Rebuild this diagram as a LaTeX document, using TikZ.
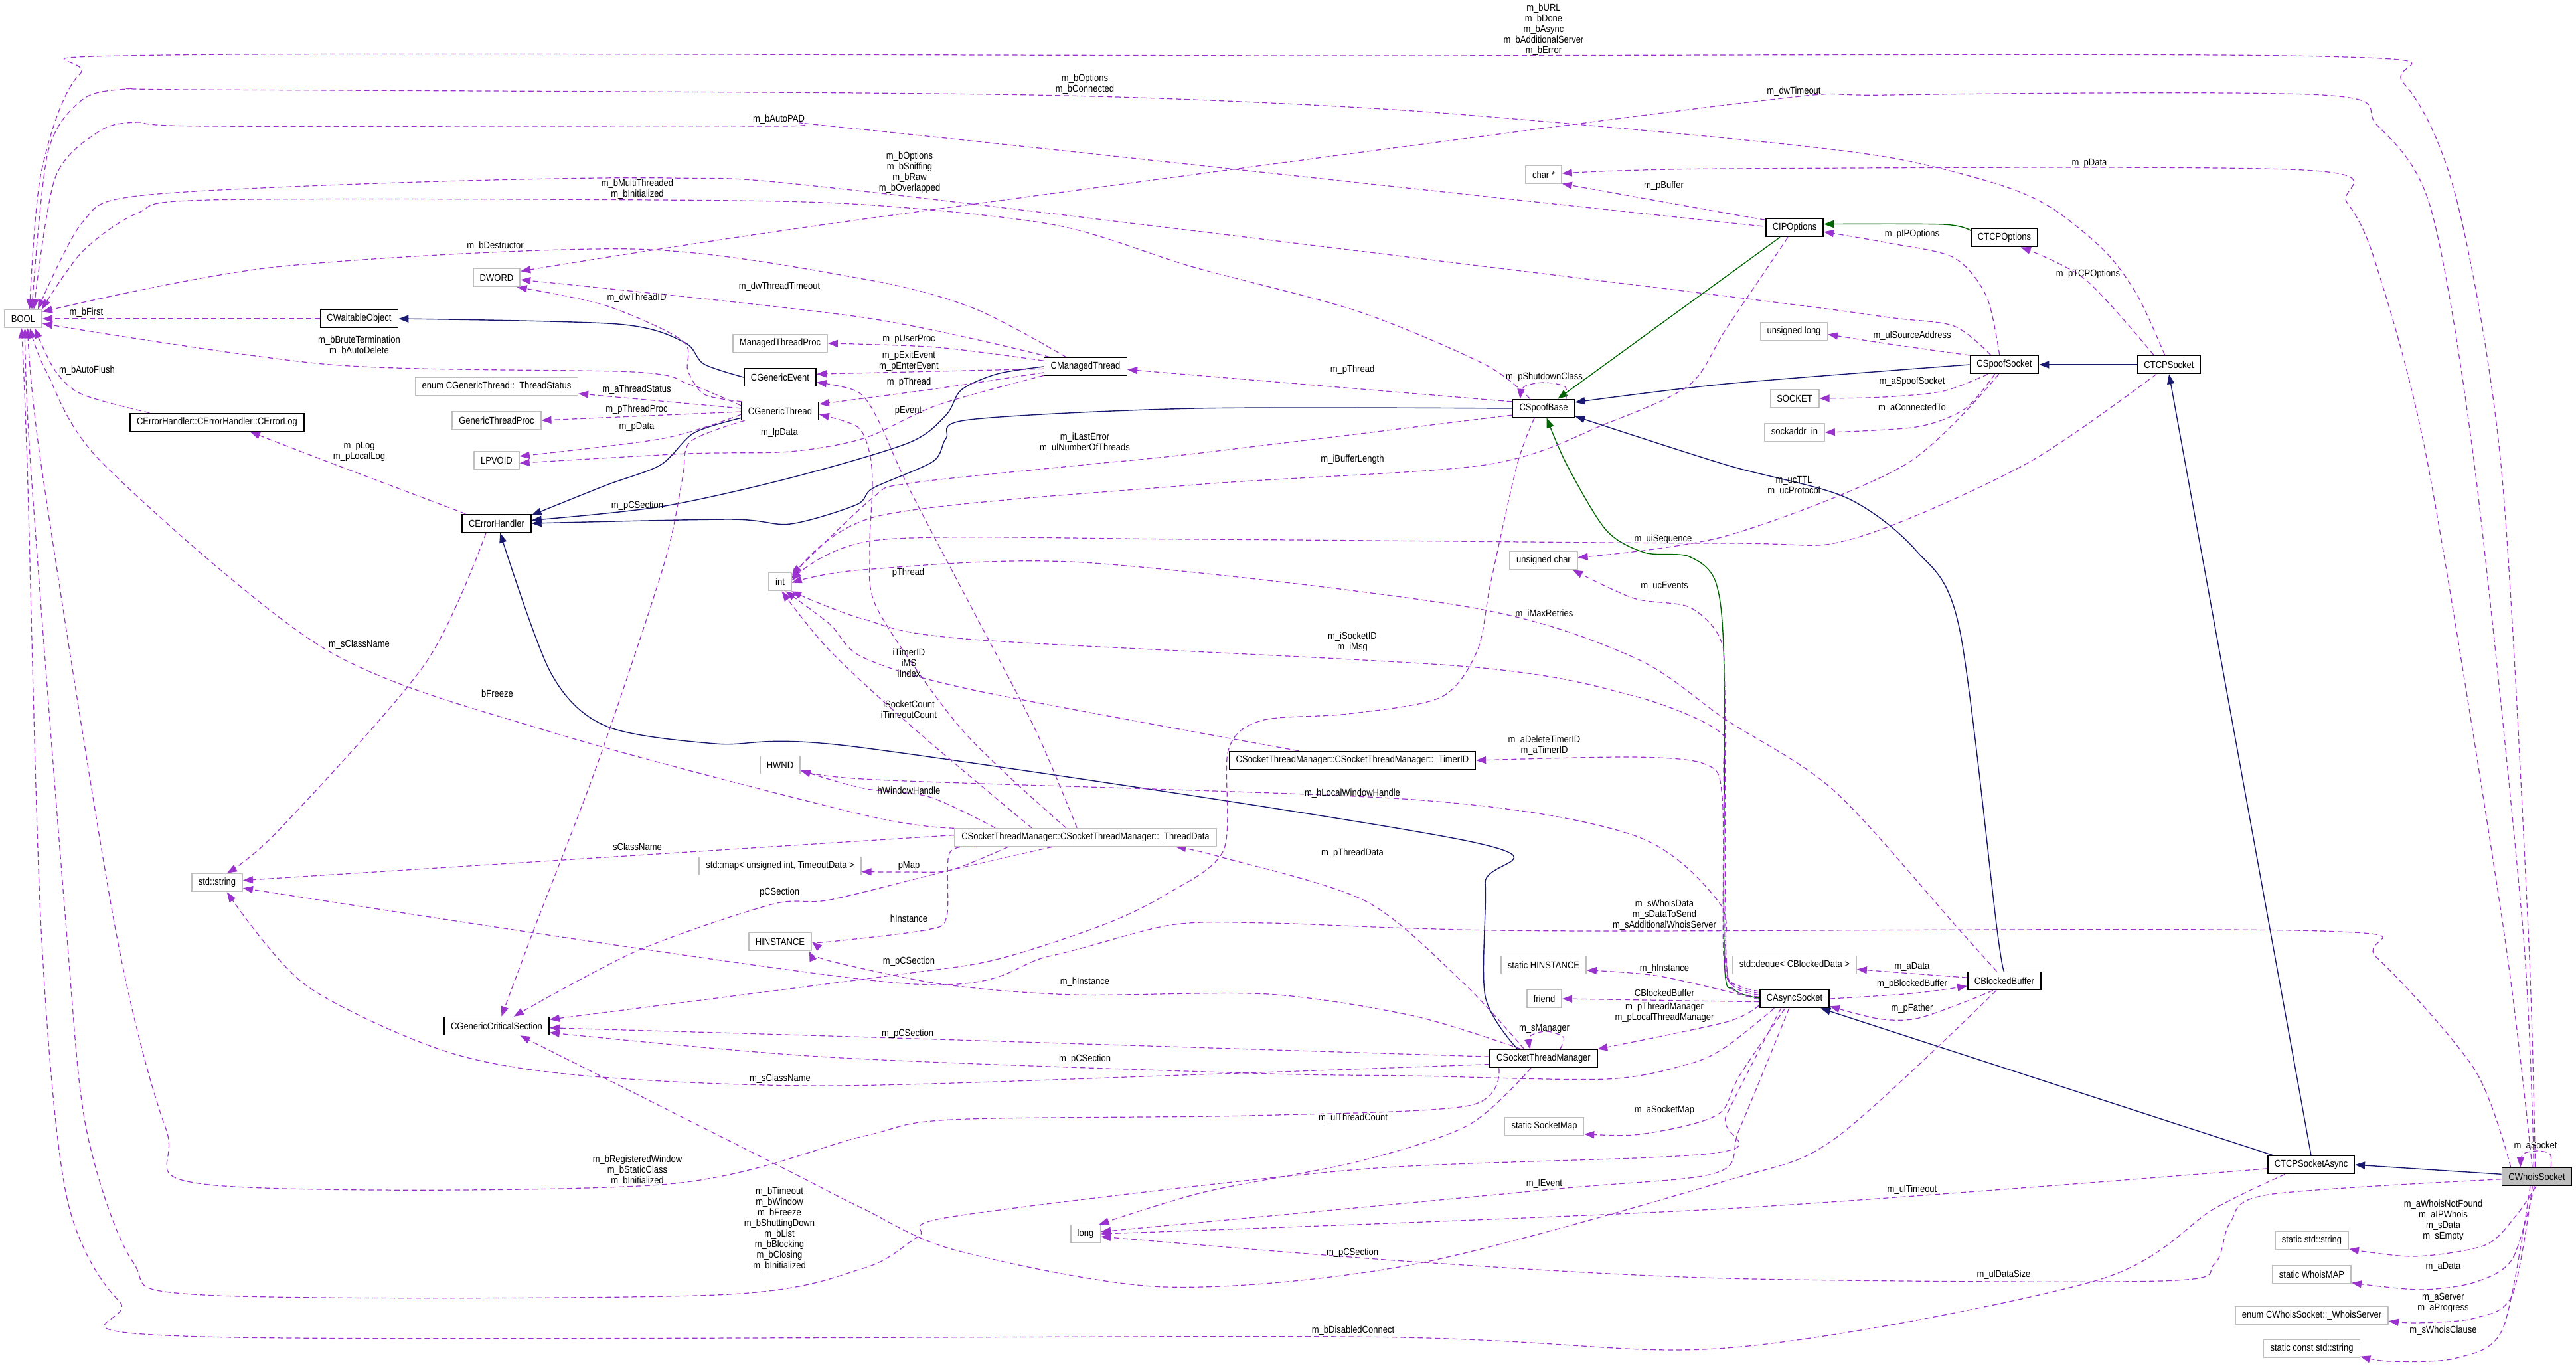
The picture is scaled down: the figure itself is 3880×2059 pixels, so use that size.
\documentclass[tikz,border=0pt]{standalone}
\usepackage{fontspec}
\newfontfamily\dxfont[FakeStretch=0.88]{Liberation Sans}
\usepackage{tikz}
\usetikzlibrary{arrows.meta}
\definecolor{dxpurple}{RGB}{154,50,205}
\definecolor{dxnavy}{RGB}{25,25,112}
\definecolor{dxgreen}{RGB}{0,100,0}
\definecolor{dxgray}{RGB}{191,191,191}
\pgfdeclarelayer{paper}
\pgfdeclarelayer{wires}
\pgfsetlayers{paper,wires,main}
\tikzset{
  cls/.style={draw=black, line width=0.45pt, fill=white, minimum height=0.27cm,
    inner xsep=0.1cm, inner ysep=0pt, font=\dxfont\fontsize{4.2}{4.6}\selectfont},
  typ/.style={cls, draw=dxgray},
  focus/.style={cls, fill=dxgray},
  lbl/.style={align=center, inner sep=0pt, font=\dxfont\fontsize{4.2}{4.55}\selectfont},
  member/.style={draw=dxpurple, line width=0.35pt, dash pattern=on 0.08cm off 0.05cm,
    -{Triangle[length=0.15cm, width=0.11cm]}},
  pub/.style={draw=dxnavy, line width=0.4pt, -{Triangle[length=0.15cm, width=0.11cm]}},
  prot/.style={draw=dxgreen, line width=0.4pt, -{Triangle[length=0.15cm, width=0.11cm]}}
}

\begin{document}
\begin{tikzpicture}[x=0.01cm, y=-0.01cm]
    \useasboundingbox (0,0) rectangle (3880,2059);
    \begin{pgfonlayer}{paper}
        \fill[white] (0,0) rectangle (3880,2059);
    \end{pgfonlayer}

    % Classes and types
    \node[typ] (bool) at (35,480) {BOOL};
    \node[cls] (cwait) at (541,480) {CWaitableObject};
    \node[typ] (dword) at (748,418) {DWORD};
    \node[typ] (mtproc) at (1175,517) {ManagedThreadProc};
    \node[cls] (gevent) at (1175,568) {CGenericEvent};
    \node[typ] (tstatus) at (748,582) {enum CGenericThread::\_ThreadStatus};
    \node[cls] (gthread) at (1175,619) {CGenericThread};
    \node[typ] (gtproc) at (748,633) {GenericThreadProc};
    \node[cls] (elog) at (327,636) {CErrorHandler::CErrorHandler::CErrorLog};
    \node[typ] (lpvoid) at (748,693) {LPVOID};
    \node[cls] (ehandler) at (748,788) {CErrorHandler};
    \node[typ] (int) at (1175,876) {int};
    \node[typ] (hwnd) at (1175,1152) {HWND};
    \node[typ] (sstring) at (327,1329) {std::string};
    \node[typ] (smap) at (1175,1304) {std::map< unsigned int, TimeoutData >};
    \node[typ] (hinst) at (1175,1418) {HINSTANCE};
    \node[cls] (gcsec) at (748,1545) {CGenericCriticalSection};
    \node[typ] (long) at (1635,1858) {long};
    \node[cls] (mthread) at (1635,552) {CManagedThread};
    \node[typ] (tdata) at (1635,1261) {CSocketThreadManager::CSocketThreadManager::\_ThreadData};
    \node[typ] (charp) at (2325,263) {char *};
    \node[cls] (sbase) at (2325,615) {CSpoofBase};
    \node[typ] (uchar) at (2325,844) {unsigned char};
    \node[cls] (timerid) at (2037,1145) {CSocketThreadManager::CSocketThreadManager::\_TimerID};
    \node[typ] (shinst) at (2325,1453) {static HINSTANCE};
    \node[typ] (friend) at (2326,1504) {friend};
    \node[cls] (stm) at (2325,1594) {CSocketThreadManager};
    \node[typ] (smapst) at (2326,1696) {static SocketMap};
    \node[cls] (ipopt) at (2703,343) {CIPOptions};
    \node[typ] (ulong) at (2702,499) {unsigned long};
    \node[typ] (socket) at (2703,600) {SOCKET};
    \node[typ] (saddr) at (2703,651) {sockaddr\_in};
    \node[typ] (deque) at (2703,1453) {std::deque< CBlockedData >};
    \node[cls] (async) at (2703,1504) {CAsyncSocket};
    \node[cls] (tcpopt) at (3019,358) {CTCPOptions};
    \node[cls] (ssock) at (3019,549) {CSpoofSocket};
    \node[cls] (bbuf) at (3019,1477) {CBlockedBuffer};
    \node[cls] (tcpsock) at (3267,549) {CTCPSocket};
    \node[cls] (tcpasync) at (3481,1754) {CTCPSocketAsync};
    \node[focus] (whois) at (3821,1772) {CWhoisSocket};
    \node[typ] (ststr) at (3482,1868) {static std::string};
    \node[typ] (swmap) at (3482,1919) {static WhoisMAP};
    \node[typ] (wserver) at (3482,1981) {enum CWhoisSocket::\_WhoisServer};
    \node[typ] (scstr) at (3482,2031) {static const std::string};

    \begin{pgfonlayer}{wires}
    % Public inheritance
    \draw[pub] plot[smooth] coordinates {(gevent.west) (1060,548) (1030,515) (930,488) (cwait.east)};
    \draw[pub] plot[smooth] coordinates {(gthread.-170) (1045,652) (995,700) (912,731) (ehandler.13)};
    \draw[pub] plot[smooth] coordinates {(mthread.west) (1502,563) (1448,587) (1425,625) (1368,667) (1189,720) (995,763) (ehandler.5)};
    \draw[pub] plot[smooth] coordinates {(sbase.west) (1800,615) (1460,632) (1425,660) (1405,695) (1315,735) (1290,760) (1190,789) (1100,782) (ehandler.east)};
    \draw[pub] plot[smooth] coordinates {(stm.160) (2237,1500) (2237,1330) (2218,1268) (1300,1126) (1078,1120) (912,1093) (829,1012) (ehandler.-70)};
    \draw[pub] plot[smooth] coordinates {(ssock.west) (2600,578) (sbase.11)};
    \draw[pub] (tcpsock.west) -- (ssock.east);
    \draw[pub] plot[smooth] coordinates {(bbuf.north) (3008,1400) (2951,945) (2886,829) (2780,749) (2600,700) (sbase.-14)};
    \draw[pub] (tcpasync.north) -- (tcpsock.south);
    \draw[pub] (tcpasync.166) -- (async.-20);
    \draw[pub] (whois.176) -- (tcpasync.east);

    % Protected inheritance
    \draw[prot] plot[smooth] coordinates {(tcpopt.168) (2927,338) (ipopt.7)};
    \draw[prot] (ipopt.-147) -- (sbase.34);
    \draw[prot] plot[smooth] coordinates {(async.179) (2612,1490) (2597,1440) (2597,1012) (2585,879) (2544,838) (2477,832) (2419,798) (2360,700) (sbase.-72)};

    % Members of type BOOL
    \draw[member] plot[smooth] coordinates {(whois.100) (3808,1400) (3767,700) (3700,300) (3620,125) (3498,85) (2000,84) (249,83) (120,112) (62,260) (bool.56)};
    \draw[member] plot[smooth] coordinates {(tcpsock.114) (3220,446) (3171,379) (3090,313) (3008,277) (2845,237) (2600,208) (2129,167) (1715,147) (1300,140) (290,135) (191,134) (124,150) (72,230) (bool.48)};
    \draw[member] plot[smooth] coordinates {(ipopt.175) (2600,335) (1300,195) (1161,190) (315,190) (207,184) (149,198) (83,268) (bool.42)};
    \draw[member] plot[smooth] coordinates {(ssock.145) (2943,491) (2845,478) (2600,446) (1300,288) (1012,268) (600,275) (207,295) (124,335) (bool.33)};
    \draw[member] plot[smooth] coordinates {(sbase.145) (2237,549) (2046,469) (1797,402) (1590,339) (1300,308) (995,301) (315,301) (207,321) (124,379) (bool.27)};
    \draw[member] plot[smooth] coordinates {(mthread.154) (1466,464) (1300,420) (954,375) (415,402) (bool.20)};
    \draw[member] (cwait.west) -- (bool.east);
    \draw[member] plot[smooth] coordinates {(gthread.172) (1078,594) (1036,578) (954,560) (498,549) (bool.-14)};
    \draw[member] plot[smooth] coordinates {(elog.172) (124,594) (83,558) (bool.-40)};
    \draw[member] plot[smooth] coordinates {(tdata.176) (1300,1227) (829,1102) (489,977) (157,700) (70,560) (bool.-55)};
    \draw[member] plot[smooth] coordinates {(stm.-168) (2212,1665) (1880,1680) (1433,1686) (1300,1711) (995,1784) (315,1784) (250,1700) (174,1400) (62,700) (bool.-65)};
    \draw[member] plot[smooth] coordinates {(async.-145) (2600,1680) (2585,1736) (2046,1761) (1441,1831) (1383,1862) (1300,1910) (1078,1950) (307,1950) (200,1900) (130,1700) (100,1400) (46,700) (bool.-80)};
    \draw[member] plot[smooth] coordinates {(tcpasync.-160) (3335,1820) (3155,1929) (2600,2030) (2038,2013) (307,2013) (180,1960) (100,1800) (62,1400) (41,700) (bool.-100)};

    % Members of type DWORD
    \draw[member] plot[smooth] coordinates {(whois.108) (3800,1400) (3727,700) (3661,313) (3580,188) (3498,143) (2845,143) (2600,158) (1300,330) (dword.15)};
    \draw[member] plot[smooth] coordinates {(mthread.165) (1300,478) (dword.-5)};
    \draw[member] plot[smooth] coordinates {(gthread.166) (1061,594) (1036,558) (1028,513) (912,460) (dword.-25)};

    % CManagedThread
    \draw[member] plot[smooth] coordinates {(mthread.172) (1412,523) (mtproc.east)};
    \draw[member] (mthread.-177) -- (gevent.5);
    \draw[member] plot[smooth] coordinates {(mthread.-172) (1412,585) (gthread.10)};
    \draw[member] plot[smooth] coordinates {(mthread.-168) (1412,610) (1301,660) (1189,680) (1036,683) (lpvoid.-7)};

    % CGenericThread
    \draw[member] (gthread.176) -- (tstatus.-5);
    \draw[member] (gthread.-179) -- (gtproc.east);
    \draw[member] plot[smooth] coordinates {(gthread.-175) (1000,660) (lpvoid.10)};
    \draw[member] plot[smooth] coordinates {(gthread.-165) (1040,665) (1028,720) (1000,850) (900,1150) (804,1400) (gcsec.63)};

    % CErrorHandler
    \draw[member] plot[smooth] coordinates {(ehandler.163) (506,700) (elog.-16)};
    \draw[member] plot[smooth] coordinates {(ehandler.-138) (640,1000) (420,1250) (sstring.44)};

    % _ThreadData
    \draw[member] plot[smooth] coordinates {(tdata.132) (1560,1100) (1466,920) (1368,733) (1323,633) (1292,590) (gevent.-8)};
    \draw[member] plot[smooth] coordinates {(tdata.154) (1450,1100) (1323,920) (1310,833) (1314,733) (1310,683) (1292,643) (gthread.-5)};
    \draw[member] plot[smooth] coordinates {(tdata.170) (1380,1100) (1250,980) (int.-80)};
    \draw[member] plot[smooth] coordinates {(tdata.174) (1400,1200) (1300,1187) (hwnd.-15)};
    \draw[member] (tdata.179) -- (sstring.5);
    \draw[member] plot[smooth] coordinates {(tdata.-173) (1433,1310) (1375,1313) (smap.-4)};
    \draw[member] plot[smooth] coordinates {(tdata.-164) (1433,1310) (1250,1355) (1162,1362) (959,1432) (gcsec.29)};
    \draw[member] plot[smooth] coordinates {(tdata.-175) (1430,1285) (1426,1380) (1397,1400) (1250,1418) (hinst.east)};

    % _TimerID
    \draw[member] plot[smooth] coordinates {(timerid.170) (1466,1039) (1300,990) (1250,940) (int.-60)};

    % CSpoofBase
    \draw[member] (sbase.168) -- (mthread.-4);
    \draw[member] plot[smooth] coordinates {(sbase.23) (2357,582) (2326,576) (2296,582) (sbase.158)};
    \draw[member] plot[smooth] coordinates {(sbase.-168) (1800,683) (1632,700) (1368,728) (1314,750) (int.30)};
    \draw[member] plot[smooth] coordinates {(sbase.-134) (2285,700) (2245,879) (2225,980) (2170,1050) (2030,1075) (1900,1085) (1850,1130) (1843,1280) (1756,1347) (1661,1393) (1500,1445) (1350,1468) (gcsec.7)};

    % CIPOptions
    \draw[member] plot[smooth] coordinates {(ipopt.165) (2600,321) (charp.-26)};
    \draw[member] plot[smooth] coordinates {(ipopt.-125) (2600,495) (2544,580) (2419,638) (2237,700) (1800,730) (1323,777) (int.15)};

    % CSpoofSocket
    \draw[member] plot[smooth] coordinates {(ssock.117) (2992,446) (2943,388) (2845,366) (ipopt.-8)};
    \draw[member] plot[smooth] coordinates {(ssock.165) (2845,518) (ulong.-5)};
    \draw[member] plot[smooth] coordinates {(ssock.-150) (2927,589) (2837,598) (socket.east)};
    \draw[member] plot[smooth] coordinates {(ssock.-135) (2959,616) (2886,643) (saddr.east)};
    \draw[member] plot[smooth] coordinates {(ssock.-120) (2869,700) (2600,807) (uchar.5)};

    % CTCPSocket
    \draw[member] plot[smooth] coordinates {(tcpsock.148) (3140,420) (tcpopt.-30)};
    \draw[member] plot[smooth] coordinates {(tcpsock.-143) (3049,700) (2788,812) (2600,818) (1800,812) (1323,813) (int.5)};

    % CBlockedBuffer
    \draw[member] plot[smooth] coordinates {(bbuf.129) (2951,1400) (2763,1191) (2600,1084) (2461,990) (2212,914) (1632,847) (1300,858) (int.-5)};
    \draw[member] plot[smooth] coordinates {(bbuf.175) (2880,1466) (deque.-4)};
    \draw[member] plot[smooth] coordinates {(bbuf.-140) (2959,1509) (2886,1534) (2829,1534) (async.-12)};
    \draw[member] plot[smooth] coordinates {(bbuf.-130) (2763,1715) (2600,1778) (2129,1904) (1756,1938) (1441,1883) (1300,1820) (1162,1750) (gcsec.-22)};

    % CAsyncSocket
    \draw[member] plot[smooth] coordinates {(async.168) (2616,1482) (2600,1440) (2598,1040) (2590,960) (2544,914) (2461,901) (uchar.-18)};
    \draw[member] plot[smooth] coordinates {(async.171) (2614,1484) (2598,1440) (2596,1160) (2590,1102) (2461,1048) (2212,1004) (1466,963) (1300,932) (int.-40)};
    \draw[member] plot[smooth] coordinates {(async.174) (2612,1486) (2596,1440) (2594,1200) (2569,1151) (2461,1140) (timerid.east)};
    \draw[member] plot[smooth] coordinates {(async.177) (2610,1490) (2598,1440) (2590,1360) (2461,1258) (2129,1204) (1300,1173) (hwnd.5)};
    \draw[member] plot[smooth] coordinates {(async.-179) (2500,1470) (shinst.-7)};
    \draw[member] (async.-175) -- (friend.east);
    \draw[member] plot[smooth] coordinates {(async.-170) (2600,1539) (stm.10)};
    \draw[member] plot[smooth] coordinates {(async.-135) (2620,1620) (2594,1673) (2544,1694) (2461,1709) (smapst.-11)};
    \draw[member] plot[smooth] coordinates {(async.-120) (2620,1700) (2585,1766) (2337,1791) (long.8)};
    \draw[member] plot[smooth] coordinates {(async.-155) (2600,1576) (2544,1602) (2419,1625) (2129,1620) (1880,1616) (1250,1592) (gcsec.-7)};
    \draw[member] plot[smooth] coordinates {(async.east) (2880,1496) (bbuf.-172)};

    % CSocketThreadManager
    \draw[member] plot[smooth] coordinates {(stm.154) (2204,1480) (2057,1357) (1837,1290) (tdata.-6)};
    \draw[member] plot[smooth] coordinates {(stm.30) (2355,1562) (2330,1553) (2305,1560) (stm.145)};
    \draw[member] plot[smooth] coordinates {(stm.157) (2130,1530) (1910,1497) (1617,1498) (1419,1482) (1250,1447) (hinst.-18)};
    \draw[member] plot[smooth] coordinates {(stm.178) (1250,1560) (gcsec.-2)};
    \draw[member] plot[smooth] coordinates {(stm.-174) (1837,1617) (1250,1635) (882,1620) (671,1583) (460,1483) (sstring.-44)};
    \draw[member] plot[smooth] coordinates {(stm.-143) (2212,1694) (2046,1749) (1814,1795) (long.35)};

    % CTCPSocketAsync
    \draw[member] plot[smooth] coordinates {(tcpasync.-175) (2600,1820) (long.east)};

    % CWhoisSocket
    \draw[member] plot[smooth] coordinates {(whois.34) (3841,1738) (3822,1733) (3800,1738) (whois.150)};
    \draw[member] plot[smooth] coordinates {(whois.116) (3771,1400) (3657,700) (3580,402) (3535,305) (3470,256) (2600,254) (charp.4)};
    \draw[member] plot[smooth] coordinates {(whois.160) (3727,1610) (3580,1442) (3498,1402) (2400,1402) (2130,1398) (1910,1390) (1763,1393) (1580,1440) (1350,1480) (sstring.-12)};
    \draw[member] plot[smooth] coordinates {(whois.-176) (3416,1799) (3359,1841) (3335,1904) (3253,1929) (2600,1925) (2129,1900) (long.-10)};
    \draw[member] plot[smooth] coordinates {(whois.-95) (3790,1830) (3743,1875) (3637,1892) (ststr.-13)};
    \draw[member] plot[smooth] coordinates {(whois.-105) (3784,1896) (3727,1931) (3645,1942) (swmap.-12)};
    \draw[member] plot[smooth] coordinates {(whois.-115) (3784,1950) (3727,1985) (3640,1992) (wserver.-4)};
    \draw[member] plot[smooth] coordinates {(whois.-125) (3770,2000) (3700,2045) (3600,2050) (scstr.-9)};
    \end{pgfonlayer}

    % Edge labels
    \node[lbl] (lbURL) at (2325,45) {m\_bURL\\m\_bDone\\m\_bAsync\\m\_bAdditionalServer\\m\_bError};
    \node[lbl] (lbOptConn) at (1634,127) {m\_bOptions\\m\_bConnected};
    \node[lbl] (ldwTimeout) at (2702,138) {m\_dwTimeout};
    \node[lbl] (lbAutoPAD) at (1173,180) {m\_bAutoPAD};
    \node[lbl] (lbOptSniff) at (1370,260) {m\_bOptions\\m\_bSniffing\\m\_bRaw\\m\_bOverlapped};
    \node[lbl] (lbMulti) at (960,285) {m\_bMultiThreaded\\m\_bInitialized};
    \node[lbl] (lbDestr) at (746,371) {m\_bDestructor};
    \node[lbl] (lbFirst) at (130,471) {m\_bFirst};
    \node[lbl] (lbBrute) at (541,521) {m\_bBruteTermination\\m\_bAutoDelete};
    \node[lbl] (lbAutoFlush) at (131,558) {m\_bAutoFlush};
    \node[lbl] (lpLog) at (541,680) {m\_pLog\\m\_pLocalLog};
    \node[lbl] (lsClassEH) at (541,971) {m\_sClassName};
    \node[lbl] (lbFreeze) at (749,1044) {bFreeze};
    \node[lbl] (lsClassTD) at (960,1275) {sClassName};
    \node[lbl] (lbRegWnd) at (960,1763) {m\_bRegisteredWindow\\m\_bStaticClass\\m\_bInitialized};
    \node[lbl] (lbTimeout) at (1174,1851) {m\_bTimeout\\m\_bWindow\\m\_bFreeze\\m\_bShuttingDown\\m\_bList\\m\_bBlocking\\m\_bClosing\\m\_bInitialized};
    \node[lbl] (lbDisConn) at (2038,2004) {m\_bDisabledConnect};
    \node[lbl] (ldwThrTimeout) at (1174,432) {m\_dwThreadTimeout};
    \node[lbl] (ldwThreadID) at (959,449) {m\_dwThreadID};
    \node[lbl] (lpUserProc) at (1369,511) {m\_pUserProc};
    \node[lbl] (lpExitEvent) at (1369,544) {m\_pExitEvent\\m\_pEnterEvent};
    \node[lbl] (lpThreadMT) at (1369,576) {m\_pThread};
    \node[lbl] (lpEvent) at (1368,619) {pEvent};
    \node[lbl] (lpThreadTD) at (1368,863) {pThread};
    \node[lbl] (laThrStatus) at (959,587) {m\_aThreadStatus};
    \node[lbl] (lpThreadProc) at (959,617) {m\_pThreadProc};
    \node[lbl] (lpDataGT) at (959,643) {m\_pData};
    \node[lbl] (llpData) at (1174,652) {m\_lpData};
    \node[lbl] (lpCSecGT) at (960,762) {m\_pCSection};
    \node[lbl] (liLastError) at (1634,667) {m\_iLastError\\m\_ulNumberOfThreads};
    \node[lbl] (liBufLen) at (2037,692) {m\_iBufferLength};
    \node[lbl] (lpThreadSB) at (2037,557) {m\_pThread};
    \node[lbl] (lpShutdown) at (2326,568) {m\_pShutdownClass};
    \node[lbl] (lpBuffer) at (2506,280) {m\_pBuffer};
    \node[lbl] (lpDataWS) at (3147,246) {m\_pData};
    \node[lbl] (lpIPOpt) at (2880,353) {m\_pIPOptions};
    \node[lbl] (lpTCPOpt) at (3145,413) {m\_pTCPOptions};
    \node[lbl] (lulSource) at (2880,506) {m\_ulSourceAddress};
    \node[lbl] (laSpoof) at (2880,575) {m\_aSpoofSocket};
    \node[lbl] (laConn) at (2880,615) {m\_aConnectedTo};
    \node[lbl] (lucTTL) at (2702,732) {m\_ucTTL\\m\_ucProtocol};
    \node[lbl] (luiSeq) at (2505,812) {m\_uiSequence};
    \node[lbl] (lucEvents) at (2507,883) {m\_ucEvents};
    \node[lbl] (liMaxRetr) at (2326,925) {m\_iMaxRetries};
    \node[lbl] (liSocketID) at (2037,967) {m\_iSocketID\\m\_iMsg};
    \node[lbl] (liTimerID) at (1369,998) {iTimerID\\iMS\\iIndex};
    \node[lbl] (liSockCount) at (1369,1068) {iSocketCount\\iTimeoutCount};
    \node[lbl] (laTimerID) at (2326,1123) {m\_aDeleteTimerID\\m\_aTimerID};
    \node[lbl] (lhWindow) at (1369,1190) {hWindowHandle};
    \node[lbl] (lhLocalWnd) at (2037,1195) {m\_hLocalWindowHandle};
    \node[lbl] (lpThreadData) at (2037,1285) {m\_pThreadData};
    \node[lbl] (lpMap) at (1369,1304) {pMap};
    \node[lbl] (lpCSecTD) at (1174,1344) {pCSection};
    \node[lbl] (lsWhois) at (2507,1378) {m\_sWhoisData\\m\_sDataToSend\\m\_sAdditionalWhoisServer};
    \node[lbl] (lhInstTD) at (1369,1383) {hInstance};
    \node[lbl] (lpCSecSB) at (1369,1448) {m\_pCSection};
    \node[lbl] (lhInstSTM) at (1634,1479) {m\_hInstance};
    \node[lbl] (lhInstAS) at (2507,1459) {m\_hInstance};
    \node[lbl] (lfriend) at (2507,1495) {CBlockedBuffer};
    \node[lbl] (lpThrMgr) at (2507,1525) {m\_pThreadManager\\m\_pLocalThreadManager};
    \node[lbl] (lsManager) at (2326,1549) {m\_sManager};
    \node[lbl] (lpCSecSTM) at (1367,1557) {m\_pCSection};
    \node[lbl] (lpCSecAS) at (1634,1595) {m\_pCSection};
    \node[lbl] (lsClassSTM) at (1175,1625) {m\_sClassName};
    \node[lbl] (laSockMap) at (2507,1672) {m\_aSocketMap};
    \node[lbl] (lulThrCount) at (2038,1684) {m\_ulThreadCount};
    \node[lbl] (llEvent) at (2326,1783) {m\_lEvent};
    \node[lbl] (lpCSecBB) at (2037,1887) {m\_pCSection};
    \node[lbl] (laDataBB) at (2880,1456) {m\_aData};
    \node[lbl] (lpBlocked) at (2880,1482) {m\_pBlockedBuffer};
    \node[lbl] (lpFather) at (2880,1519) {m\_pFather};
    \node[lbl] (lulTimeout) at (2880,1792) {m\_ulTimeout};
    \node[lbl] (lulDataSize) at (3018,1920) {m\_ulDataSize};
    \node[lbl] (laSocket) at (3819,1726) {m\_aSocket};
    \node[lbl] (laWhoisNF) at (3680,1838) {m\_aWhoisNotFound\\m\_aIPWhois\\m\_sData\\m\_sEmpty};
    \node[lbl] (laDataWS) at (3680,1908) {m\_aData};
    \node[lbl] (laServer) at (3680,1962) {m\_aServer\\m\_aProgress};
    \node[lbl] (lsClause) at (3680,2004) {m\_sWhoisClause};
\end{tikzpicture}
\end{document}
